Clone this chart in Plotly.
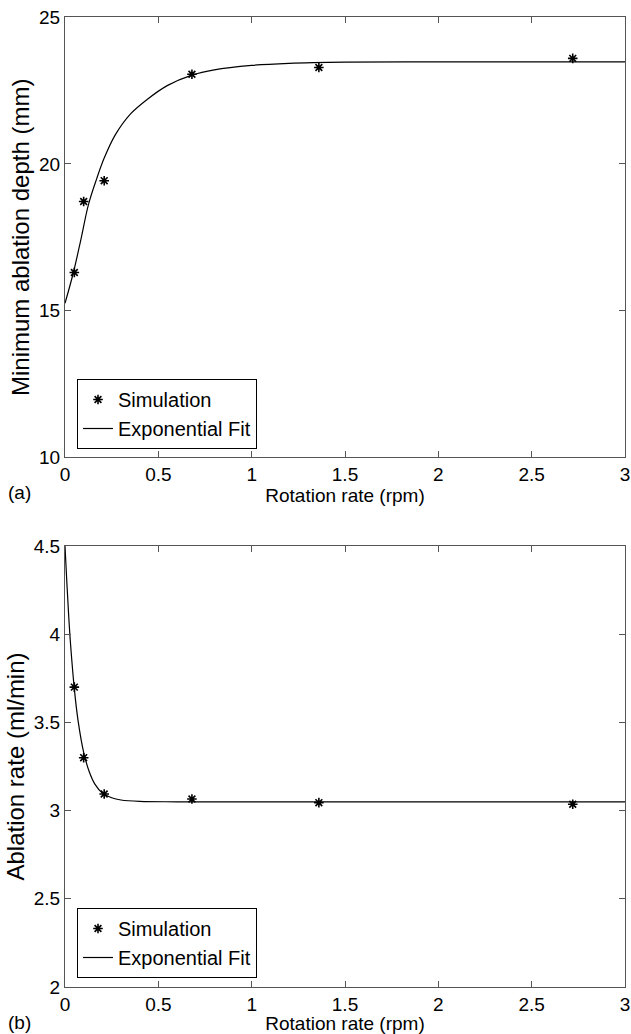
import plotly.graph_objects as go

# ---- data ----
# (a) Minimum ablation depth
sim_x_a = [0.05, 0.10, 0.21, 0.68, 1.36, 2.72]
sim_y_a = [16.30, 18.72, 19.43, 23.06, 23.29, 23.60]
fit_x_a = [0, 0.045, 0.086, 0.125, 0.17, 0.21, 0.27, 0.35, 0.44, 0.55, 0.68, 0.80, 1.0, 1.2, 1.5, 2.0, 2.5, 3.0]
fit_y_a = [15.25, 16.30, 17.45, 18.60, 19.50, 20.20, 21.00, 21.70, 22.20, 22.68, 23.03, 23.21, 23.36, 23.43, 23.47, 23.48, 23.48, 23.48]

# (b) Ablation rate
sim_x_b = [0.05, 0.10, 0.21, 0.68, 1.36, 2.72]
sim_y_b = [3.70, 3.30, 3.094, 3.066, 3.045, 3.036]
fit_x_b = [0, 0.01, 0.02, 0.03, 0.05, 0.07, 0.10, 0.13, 0.16, 0.20, 0.25, 0.30, 0.40, 0.60, 1.0, 2.0, 3.0]
fit_y_b = [4.50, 4.29, 4.10, 3.94, 3.69, 3.51, 3.33, 3.22, 3.15, 3.10, 3.073, 3.06, 3.052, 3.05, 3.05, 3.05, 3.05]

x_ticks = [0, 0.5, 1, 1.5, 2, 2.5, 3]
x_ticktext = ["0", "0.5", "1", "1.5", "2", "2.5", "3"]
y_ticks_a = [10, 15, 20, 25]
y_ticks_b = [2, 2.5, 3, 3.5, 4, 4.5]
y_ticktext_b = ["2", "2.5", "3", "3.5", "4", "4.5"]

FONT = "Liberation Sans, Arial, Helvetica, sans-serif"
FS = 19        # horizontal text
FS_V = 24      # rotated y titles
W, H = 631, 1034

fig = go.Figure()

marker = dict(symbol="asterisk-open", size=8, color="black", line=dict(color="black", width=1.6))
fitline = dict(color="black", width=1.2, shape="spline", smoothing=1.0)

fig.add_trace(go.Scatter(x=sim_x_a, y=sim_y_a, mode="markers", name="Simulation",
                         marker=marker, xaxis="x", yaxis="y", legend="legend"))
fig.add_trace(go.Scatter(x=fit_x_a, y=fit_y_a, mode="lines", name="Exponential Fit",
                         line=fitline, xaxis="x", yaxis="y", legend="legend"))
fig.add_trace(go.Scatter(x=sim_x_b, y=sim_y_b, mode="markers", name="Simulation",
                         marker=marker, xaxis="x2", yaxis="y2", legend="legend2"))
fig.add_trace(go.Scatter(x=fit_x_b, y=fit_y_b, mode="lines", name="Exponential Fit",
                         line=fitline, xaxis="x2", yaxis="y2", legend="legend2"))

xd = [65 / W, 625 / W]
yd_a = [1 - 457.3 / H, 1 - 17.3 / H]
yd_b = [1 - 987 / H, 1 - 546 / H]

axis_common = dict(showline=True, linecolor="#555555", linewidth=1.2, mirror="allticks",
                   ticks="inside", ticklen=6, tickcolor="#555555", tickwidth=1,
                   showgrid=False, zeroline=False, automargin=False,
                   ticklabeloverflow="allow",
                   tickfont=dict(family=FONT, size=FS, color="black"))

xtitle_font = dict(family=FONT, size=FS, color="black")
ytitle_font = dict(family=FONT, size=FS_V, color="black")

legend_common = dict(xanchor="left", yanchor="bottom",
                     bgcolor="white", bordercolor="black", borderwidth=1,
                     font=dict(family=FONT, size=20, color="black"), tracegroupgap=0)

fig.update_layout(
    width=W, height=H,
    margin=dict(l=0, r=0, t=0, b=0, autoexpand=False),
    paper_bgcolor="white", plot_bgcolor="white",
    font=dict(family=FONT, size=FS, color="black"),
    xaxis=dict(domain=xd, range=[0, 3], tickvals=x_ticks, ticktext=x_ticktext, anchor="y",
               title=dict(text="Rotation rate (rpm)", font=xtitle_font, standoff=4), **axis_common),
    yaxis=dict(domain=yd_a, range=[10, 25], tickvals=y_ticks_a, anchor="x",
               title=dict(text="Minimum ablation depth (mm)", font=ytitle_font, standoff=2), **axis_common),
    xaxis2=dict(domain=xd, range=[0, 3], tickvals=x_ticks, ticktext=x_ticktext, anchor="y2",
                title=dict(text="Rotation rate (rpm)", font=xtitle_font, standoff=4), **axis_common),
    yaxis2=dict(domain=yd_b, range=[2, 4.5], tickvals=y_ticks_b, ticktext=y_ticktext_b, anchor="x2",
                title=dict(text="Ablation rate (ml/min)", font=ytitle_font, standoff=2), **axis_common),
    legend=dict(x=77 / W, y=1 - 449 / H, **legend_common),
    legend2=dict(x=77 / W, y=1 - 978 / H, **legend_common),
    annotations=[
        dict(text="(a)", x=6 / W, y=1 - 493 / H, xref="paper", yref="paper",
             xanchor="left", yanchor="middle", showarrow=False, font=xtitle_font),
        dict(text="(b)", x=6 / W, y=1 - 1022 / H, xref="paper", yref="paper",
             xanchor="left", yanchor="middle", showarrow=False, font=xtitle_font),
    ],
)

fig.write_html(
    "out.html",
    config={"displayModeBar": False},
    post_script="document.body.style.margin='0';document.body.style.padding='0';"
                "document.body.style.overflow='hidden';",
)
